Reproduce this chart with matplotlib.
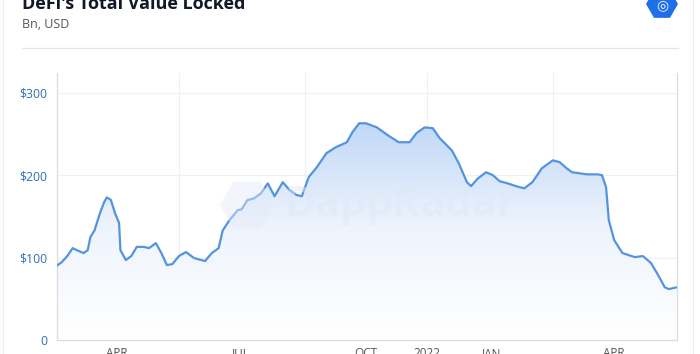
import numpy as np
import pandas as pd
import matplotlib
matplotlib.use("Agg")
import matplotlib.pyplot as plt
import matplotlib.dates as mdates
from matplotlib.patches import RegularPolygon
from matplotlib.lines import Line2D
from matplotlib.colors import LinearSegmentedColormap

plt.rcParams['font.family'] = ['Open Sans', 'DejaVu Sans']

dates = ["2021-02-15", "2021-02-20", "2021-02-24", "2021-02-28", "2021-03-03", "2021-03-08",
         "2021-03-11", "2021-03-13", "2021-03-16", "2021-03-20", "2021-03-23", "2021-03-25",
         "2021-03-28", "2021-03-31", "2021-04-03", "2021-04-04", "2021-04-08", "2021-04-12",
         "2021-04-16", "2021-04-21", "2021-04-25", "2021-04-30", "2021-05-04", "2021-05-08",
         "2021-05-12", "2021-05-17", "2021-05-22", "2021-05-28", "2021-06-05", "2021-06-10",
         "2021-06-15", "2021-06-18", "2021-06-23", "2021-06-29", "2021-07-02", "2021-07-06",
         "2021-07-11", "2021-07-16", "2021-07-21", "2021-07-26", "2021-08-01", "2021-08-06",
         "2021-08-11", "2021-08-15", "2021-08-20", "2021-08-26", "2021-09-02", "2021-09-09",
         "2021-09-17", "2021-09-21", "2021-09-26", "2021-10-01", "2021-10-09", "2021-10-17",
         "2021-10-25", "2021-11-02", "2021-11-07", "2021-11-13", "2021-11-19", "2021-11-24",
         "2021-12-03", "2021-12-08", "2021-12-14", "2021-12-17", "2021-12-22", "2021-12-28",
         "2022-01-02", "2022-01-07", "2022-01-13", "2022-01-19", "2022-01-25", "2022-01-31",
         "2022-02-07", "2022-02-15", "2022-02-20", "2022-02-25", "2022-03-01", "2022-03-12",
         "2022-03-20", "2022-03-23", "2022-03-26", "2022-03-28", "2022-04-01", "2022-04-07",
         "2022-04-16", "2022-04-22", "2022-04-28", "2022-05-04", "2022-05-08", "2022-05-11",
         "2022-05-17"]
tvl = [88.5, 94.5, 101.8, 111.5, 109, 105.5,
       109, 125, 133, 154, 167, 173,
       170, 154, 142, 109, 97, 102,
       113, 113, 111.5, 117.6, 105.5, 91,
       92, 102, 106.7, 99.4, 95.8, 105.5,
       111.5, 133, 145.5, 157.6, 158.8, 169.7,
       172, 178, 190, 174.5, 191.5, 182,
       176, 174.5, 197.6, 209.7, 226.7, 234,
       240, 252, 263, 263, 258, 248.5,
       240, 240, 251, 258, 257, 245,
       230, 214.5, 191.5, 186.7, 196, 203.6,
       200, 192.7, 190, 186.7, 184, 191.5,
       208.5, 218, 215.8, 208.5, 203.6, 201,
       201, 200, 185.5, 145.5, 121, 105.5,
       100.6, 101.8, 93.3, 76.4, 64, 61.8,
       64]

ytick_vals = [0, 100, 200, 300]
ytick_labels = ["0", "$100", "$200", "$300"]
xlabel_dates = ["2021-04-01", "2021-07-01", "2021-10-01", "2021-11-15", "2022-01-01", "2022-04-01"]
xlabel_texts = ["APR", "JUL", "OCT", "2022", "JAN", "APR"]
xgrid_dates = ["2021-05-17", "2021-08-17", "2021-11-15", "2022-02-15"]

x = mdates.date2num(pd.to_datetime(dates))
y = np.array(tvl)

W, H = 700, 354
fig = plt.figure(figsize=(7, 3.54), dpi=100)
fig.patch.set_facecolor("white")

ax = fig.add_axes([57 / W, (H - 340) / H, 620 / W, 267 / H])
ax.set_facecolor("white")
ymax = 324

# gradient fill under the line
cmap = LinearSegmentedColormap.from_list("g", ["#ffffff", "#eef4fd", "#bcd5f6"])
grad = np.linspace(0, 1, 256).reshape(-1, 1)
im = ax.imshow(grad, extent=[x[0], x[-1], 0, ymax * 0.85], origin="lower",
               aspect="auto", cmap=cmap, zorder=1)
poly = ax.fill_between(x, y, 0, color="none", lw=0)
im.set_clip_path(poly.get_paths()[0], transform=ax.transData)
ax.set_ylim(0, ymax)
ax.set_xlim(x[0] + 1.5, x[-1])

ax.plot(x, y, color="#5494de", lw=1.6, zorder=4, solid_joinstyle="round",
        solid_capstyle="round")

# grid
for v in ytick_vals[1:]:
    ax.axhline(v, color="#f0f0f0", lw=0.8, zorder=0.5)
for d in xgrid_dates:
    ax.axvline(mdates.date2num(pd.Timestamp(d)), color="#f0f0f0", lw=0.8, zorder=0.5)

for s in ["left", "bottom", "right"]:
    ax.spines[s].set_color("#dcdcdc")
    ax.spines[s].set_linewidth(0.9)
ax.spines["top"].set_visible(False)

ax.set_yticks(ytick_vals)
ax.set_yticklabels(ytick_labels, color="#2f6db5", fontsize=8.8)
ax.tick_params(axis="y", length=0, pad=7)
ax.set_xticks([])
for d, t in zip(xlabel_dates, xlabel_texts):
    ax.text(mdates.date2num(pd.Timestamp(d)), -0.028, t, transform=ax.get_xaxis_transform(),
            ha="center", va="top", fontsize=8.5, color="#555555")

# watermark
fig.text(400 / W, 1 - 205 / H, "DappRadar", fontsize=30, fontweight="bold",
         color="#dfe8f6", alpha=0.45, ha="center", va="center", zorder=3)
fig.patches.append(RegularPolygon((247, H - 205), 6, radius=27, orientation=np.pi / 6,
                                  transform=None, facecolor="#e3ebf7", alpha=0.45,
                                  edgecolor="none", zorder=3))

# header
fig.text(22 / W, 1 - 9 / H, "DeFi's Total Value Locked", fontsize=13, fontweight="bold",
         color="#111827", ha="left", va="baseline")
fig.text(22 / W, 1 - 24 / H, "Bn, USD", fontsize=9, color="#555555", ha="left", va="center")
fig.add_artist(Line2D([22 / W, 678 / W], [1 - 48 / H, 1 - 48 / H], color="#e6e6e6", lw=0.9))

# logo
fig.patches.append(RegularPolygon((662, H - 4), 6, radius=16, orientation=np.pi / 6,
                                  transform=None, facecolor="#1f6fe8", edgecolor="none"))
fig.text(662 / W, 1 - 5 / H, "◎", fontsize=10, color="white", ha="center", va="center",
         family=["DejaVu Sans"])

# card border
fig.add_artist(Line2D([3 / W, 3 / W], [0, 1], color="#eeeeee", lw=0.8))
fig.add_artist(Line2D([693 / W, 693 / W], [0, 1], color="#eeeeee", lw=0.8))

fig.savefig("out.png", dpi=100)
